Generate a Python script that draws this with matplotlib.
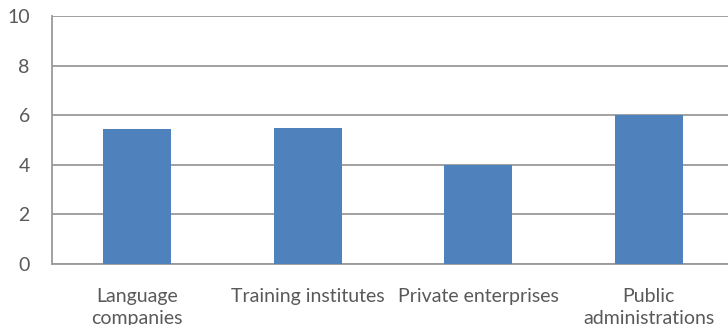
import matplotlib.pyplot as plt
import numpy as np

# Survey scores per sector
categories = ['Language\ncompanies', 'Training institutes', 'Private enterprises', 'Public\nadministrations']
scores = [5.43, 5.47, 4.0, 6.0]
y_ticks = [0, 2, 4, 6, 8, 10]

plt.rcParams['font.family'] = ['Lato', 'DejaVu Sans']

fig = plt.figure(figsize=(7.28, 3.25), dpi=100)
# axes runs slightly past the right edge of the figure
ax = fig.add_axes([52 / 728, 1 - 264 / 325, 682 / 728, 248 / 325])

x = np.arange(len(categories))
ax.bar(x, scores, width=0.4, color='#4F81BD', zorder=3)

ax.set_xlim(-0.5, 3.5)
ax.set_ylim(0, 10)
ax.set_yticks(y_ticks)
ax.set_xticks(x)
ax.set_xticklabels(categories, linespacing=1.35)

grid_color = '#9a9a9a'
ax.yaxis.grid(True, color=grid_color, linewidth=1.3, zorder=0)
for side in ['top', 'right']:
    ax.spines[side].set_visible(False)
for side in ['left', 'bottom']:
    ax.spines[side].set_color(grid_color)
    ax.spines[side].set_linewidth(1.3)

ax.tick_params(axis='both', length=0, colors='#595959', labelsize=14)
ax.tick_params(axis='y', pad=16)
ax.tick_params(axis='x', pad=17)

fig.savefig('out.png', dpi=100)
